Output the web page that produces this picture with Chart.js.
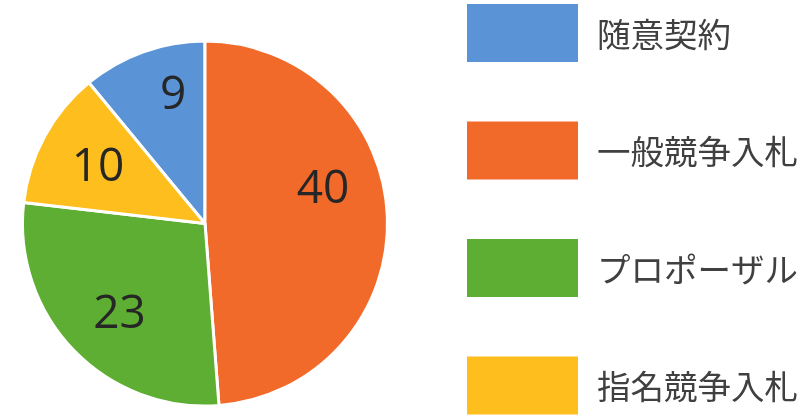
<!DOCTYPE html>
<html>
<head>
<meta charset="utf-8">
<script src="https://cdn.jsdelivr.net/npm/chart.js@4/dist/chart.umd.min.js"></script>
<style>
  html, body { margin: 0; padding: 0; background: #fff; }
  #wrap { width: 812px; height: 418px; }
</style>
</head>
<body>
<div id="wrap"><canvas id="pie"></canvas></div>
<script>
// Chart data.
const categories = ['随意契約', '一般競争入札', 'プロポーザル', '指名競争入札'];
const counts = [9, 40, 23, 10];
const sliceColors = ['#5A93D6', '#F26A2A', '#5DAE32', '#FDBE1E'];

// Small nudges so the value labels sit where the original put them.
const labelNudgeX = [10, -6, 4, 2];
const labelNudgeY = [-11, -29, 5, 4];

const total = counts.reduce((a, b) => a + b, 0);
const fontFamily = '"Noto Sans CJK JP", "Noto Sans", sans-serif';

// Draws the value inside each slice.
const sliceLabels = {
    id: 'sliceLabels',
    afterDatasetsDraw(chart) {
        const ctx = chart.ctx;
        const meta = chart.getDatasetMeta(0);
        ctx.save();
        ctx.fillStyle = '#262626';
        ctx.font = '46px "Open Sans", "Liberation Sans", sans-serif';
        ctx.textAlign = 'center';
        ctx.textBaseline = 'middle';
        meta.data.forEach((arc, i) => {
            const mid = (arc.startAngle + arc.endAngle) / 2;
            const r = arc.outerRadius * 0.68;
            ctx.fillText(String(counts[i]),
                arc.x + Math.cos(mid) * r + labelNudgeX[i],
                arc.y + Math.sin(mid) * r + labelNudgeY[i]);
        });
        ctx.restore();
    }
};

// Draws the big legend boxes on the right.
const sideLegend = {
    id: 'sideLegend',
    afterDraw(chart) {
        const ctx = chart.ctx;
        const boxLeft = 467, boxW = 111, boxH = 58, top = 4, step = 117.5;
        ctx.save();
        ctx.font = '33.5px ' + fontFamily;
        ctx.textBaseline = 'middle';
        ctx.textAlign = 'left';
        categories.forEach((name, i) => {
            const y = top + i * step;
            ctx.fillStyle = sliceColors[i];
            ctx.fillRect(boxLeft, y, boxW, boxH);
            ctx.fillStyle = '#404040';
            ctx.fillText(name, boxLeft + boxW + 19, y + boxH / 2 + 1);
        });
        ctx.restore();
    }
};

new Chart(document.getElementById('pie'), {
    type: 'pie',
    data: {
        labels: categories,
        datasets: [{
            data: counts,
            backgroundColor: sliceColors,
            borderColor: '#ffffff',
            borderWidth: 3,
            hoverOffset: 0
        }]
    },
    options: {
        responsive: true,
        maintainAspectRatio: false,
        animation: false,
        rotation: -counts[0] / total * 360,
        layout: {
            padding: { left: 21, top: 38, bottom: 9, right: 423 }
        },
        plugins: {
            legend: { display: false },
            tooltip: { enabled: false }
        }
    },
    plugins: [sliceLabels, sideLegend]
});
</script>
</body>
</html>
